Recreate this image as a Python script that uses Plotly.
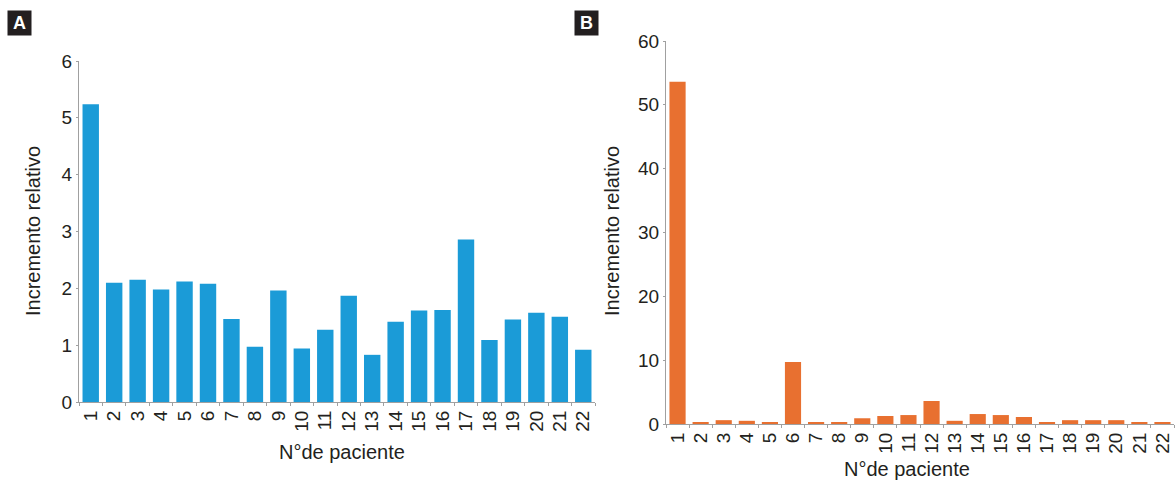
import plotly.graph_objects as go

patients = [str(i) for i in range(1, 23)]
values_a = [5.24, 2.10, 2.15, 1.98, 2.12, 2.08, 1.46, 0.97, 1.96, 0.94, 1.27,
            1.87, 0.83, 1.41, 1.61, 1.62, 2.86, 1.09, 1.45, 1.57, 1.50, 0.92]
values_b = [53.6, 0.3, 0.6, 0.5, 0.3, 9.7, 0.3, 0.3, 0.9, 1.25, 1.4,
            3.6, 0.5, 1.56, 1.4, 1.1, 0.3, 0.6, 0.6, 0.6, 0.3, 0.3]
yticks_a = [0, 1, 2, 3, 4, 5, 6]
yticks_b = [0, 10, 20, 30, 40, 50, 60]

W, H = 1175, 483
FONT = "Liberation Sans, Arial, sans-serif"
TXT = "#231f20"
LINE = "#a0a0a0"

def px(x):
    return x / W

def py(y):
    return (H - y) / H

fig = go.Figure()
fig.add_trace(go.Bar(x=patients, y=values_a, marker_color="#1b9bd7",
                     marker_line_width=0, xaxis="x", yaxis="y"))
fig.add_trace(go.Bar(x=patients, y=values_b, marker_color="#e87030",
                     marker_line_width=0, xaxis="x2", yaxis="y2"))

common_x = dict(type="category", range=[-0.5, 21.5], tickangle=-90,
                showline=True, linecolor=LINE, linewidth=1, ticks="outside",
                tickson="boundaries", ticklen=3, tickcolor=LINE,
                tickfont=dict(family=FONT, size=19, color=TXT),
                showgrid=False, zeroline=False, fixedrange=True,
                automargin=False)
common_y = dict(showline=True, linecolor=LINE, linewidth=1, ticks="outside",
                ticklen=2, tickcolor=LINE,
                tickfont=dict(family=FONT, size=19, color=TXT),
                showgrid=False, zeroline=False, fixedrange=True,
                automargin=False)

fig.update_layout(
    width=W, height=H,
    margin=dict(l=0, r=0, t=0, b=0, autoexpand=False),
    paper_bgcolor="white", plot_bgcolor="white",
    showlegend=False, bargap=0.3,
    xaxis=dict(common_x, domain=[px(79), px(595)], anchor="y"),
    yaxis=dict(common_y, domain=[py(402), py(61)], range=[0, 6],
               tickvals=yticks_a, anchor="x"),
    xaxis2=dict(common_x, domain=[px(666), px(1174)], anchor="y2"),
    yaxis2=dict(common_y, domain=[py(424), py(41)], range=[0, 60],
                tickvals=yticks_b, anchor="x2"),
)

def note(text, x, y, size=20, angle=0, **kw):
    return dict(text=text, x=px(x), y=py(y), textangle=angle,
                xanchor="center", yanchor="middle", showarrow=False,
                xref="paper", yref="paper",
                font=dict(family=FONT, size=size, color=kw.pop("color", TXT)), **kw)

ann = [
    note("Incremento relativo", 33, 231, angle=-90),
    note("Incremento relativo", 612, 231, angle=-90),
    note("N°de paciente", 342, 452),
    note("N°de paciente", 907, 469),
]
for lab, cx in (("A", 19.5), ("B", 586.5)):
    ann.append(note("<b>%s</b>" % lab, cx, 23, size=18, color="white",
                    bgcolor="#231f20", borderpad=1, width=21, height=22))
fig.update_layout(annotations=ann)

# remove the default page margin so the 1175x483 figure fills the window exactly
fig.write_html(
    "out.html",
    config={"displayModeBar": False},
    post_script="document.body.style.margin='0';"
                "document.documentElement.style.overflow='hidden';",
)
